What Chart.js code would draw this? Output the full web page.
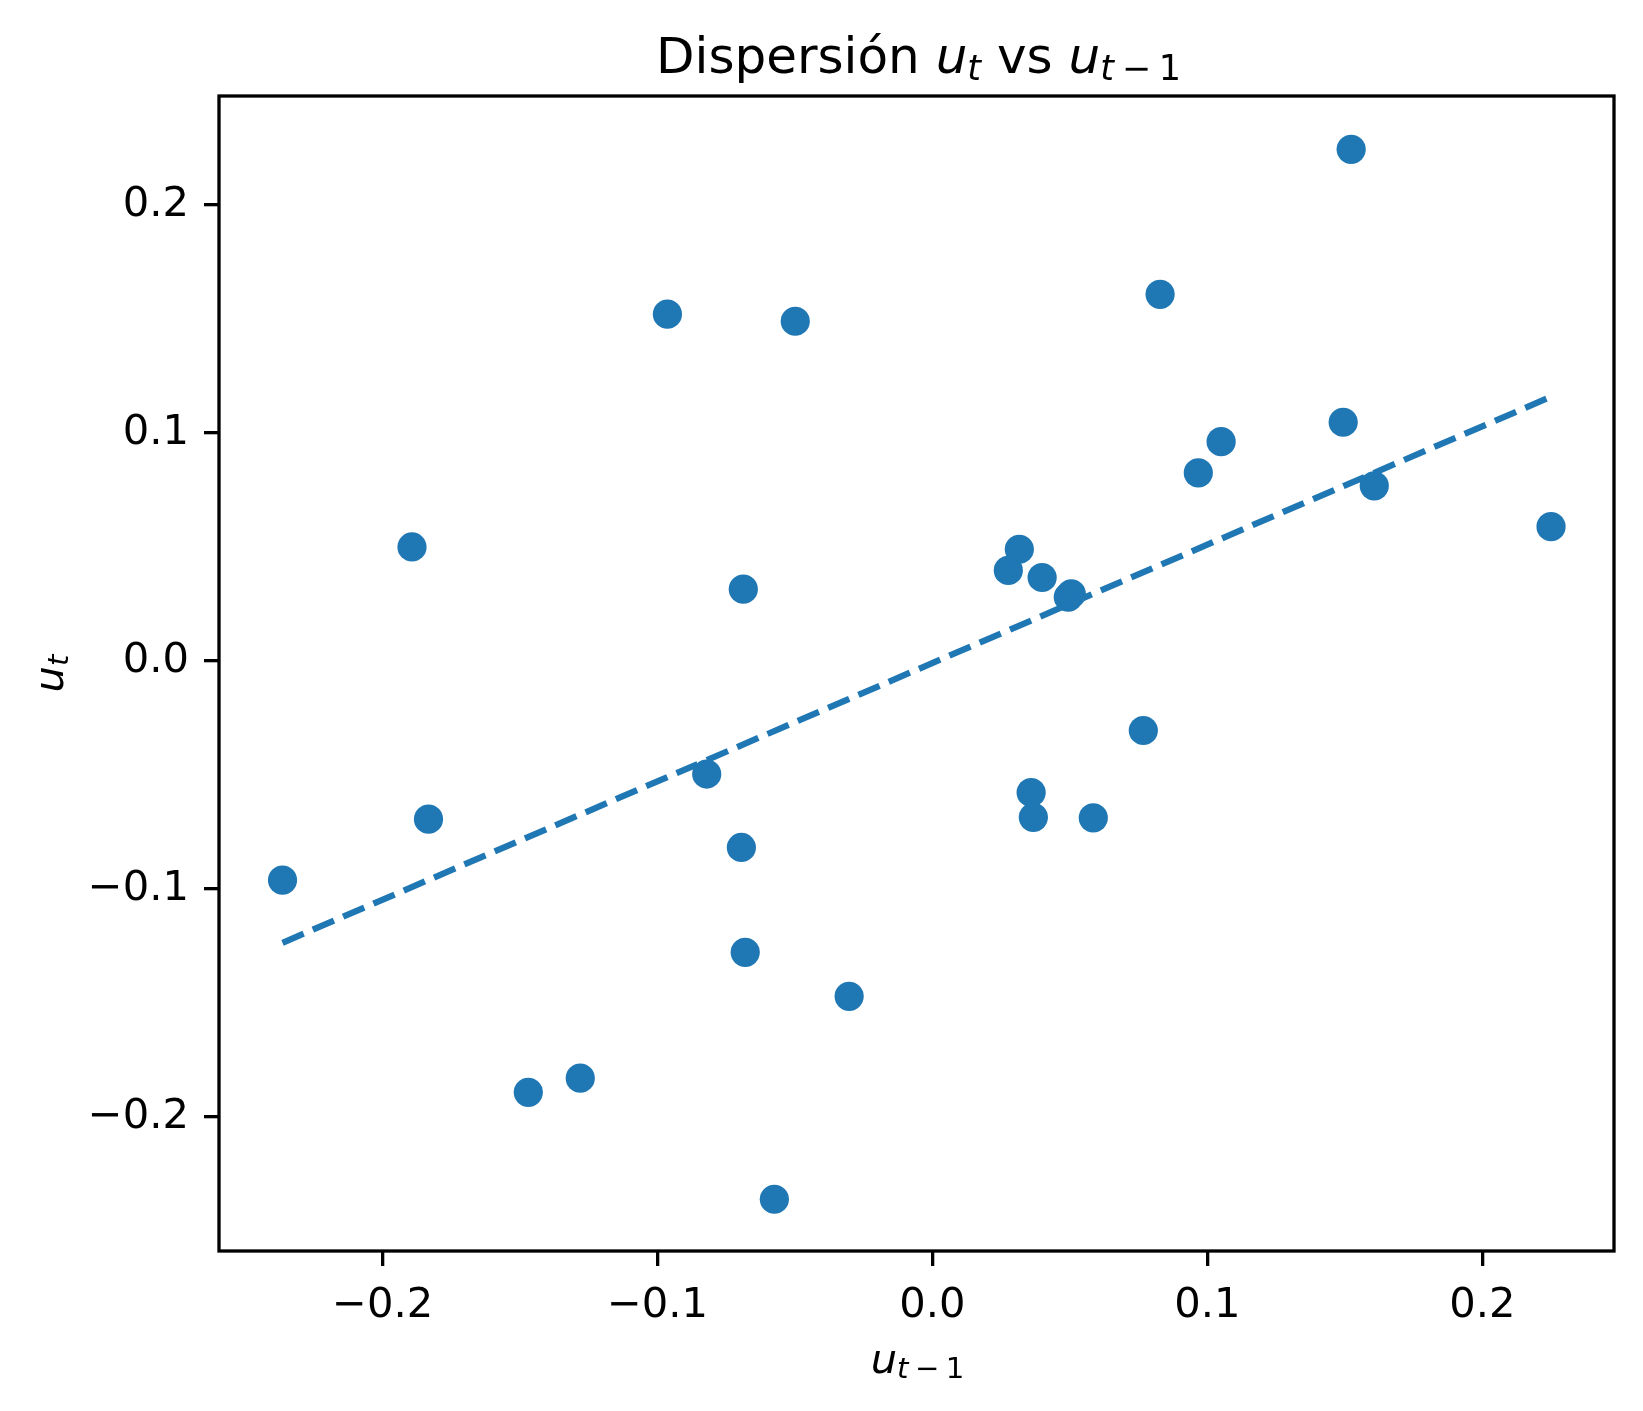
<!DOCTYPE html>
<html>
<head>
<meta charset="utf-8">
<script src="https://cdn.jsdelivr.net/npm/chart.js@4.4.1/dist/chart.umd.min.js"></script>
<style>
  html, body { margin: 0; padding: 0; background: #fff; }
  canvas { display: block; }
</style>
</head>
<body>
<canvas id="chart" width="1643" height="1411"></canvas>
<script>
// residuals: u_{t-1} on x, u_t on y
const lagValues = [-0.2364, -0.1893, -0.1833, -0.1470, -0.1281, -0.0964, -0.0821, -0.0695, -0.0688, -0.0681,
                   -0.0575, -0.0499, -0.0303, 0.0276, 0.0316, 0.0359, 0.0367, 0.0399, 0.0494, 0.0505,
                   0.0585, 0.0767, 0.0828, 0.0967, 0.1050, 0.1494, 0.1523, 0.1607, 0.2250];
const currentValues = [-0.0961, 0.0500, -0.0694, -0.1892, -0.1830, 0.1521, -0.0496, -0.0818, 0.0315, -0.1278,
                       -0.2361, 0.1490, -0.1471, 0.0397, 0.0490, -0.0577, -0.0686, 0.0366, 0.0280, 0.0294,
                       -0.0688, -0.0305, 0.1608, 0.0825, 0.0962, 0.1047, 0.2244, 0.0768, 0.0589];

// fitted line end points
const fitX = [-0.2364, 0.2250];
const fitY = [-0.1236, 0.1159];

const xTicks = [-0.2, -0.1, 0.0, 0.1, 0.2];
const yTicks = [-0.2, -0.1, 0.0, 0.1, 0.2];
const xLimits = [-0.2595, 0.2479];
const yLimits = [-0.2588, 0.2478];

const blue = "#1f77b4";
const family = '"DejaVu Sans"';
const tickFont = { family: "DejaVu Sans", size: 41.67 };

function fmt(v) {
    return Number(v).toFixed(1).replace("-", "\u2212");
}

function mathFont(size, italic) {
    return (italic ? "italic " : "") + size + "px " + family;
}

// draws a run of text pieces with mathtext-like subscripts, centred on cx
function drawMath(ctx, runs, size, cx, baseY) {
    const subSize = size * 0.7;
    const shift = size * 0.13;
    let total = 0;
    const laid = runs.map(r => {
        const s = r.sub ? subSize : size;
        ctx.font = mathFont(s, r.it);
        const pad = (r.pad || 0) * s;
        const w = ctx.measureText(r.t).width;
        const item = { t: r.t, it: r.it, sub: r.sub, s: s, x: total + pad };
        total += w + 2 * pad;
        return item;
    });
    const x0 = cx - total / 2;
    laid.forEach(r => {
        ctx.font = mathFont(r.s, r.it);
        ctx.fillText(r.t, x0 + r.x, baseY + (r.sub ? shift : 0));
    });
}

const titleRuns = [
    { t: "Dispersi\u00f3n " },
    { t: "u", it: true },
    { t: "t", it: true, sub: true },
    { t: " vs " },
    { t: "u", it: true },
    { t: "t", it: true, sub: true },
    { t: "\u2212", sub: true, pad: 0.22 },
    { t: "1", sub: true }
];
const xLabelRuns = [
    { t: "u", it: true },
    { t: "t", it: true, sub: true },
    { t: "\u2212", sub: true, pad: 0.22 },
    { t: "1", sub: true }
];
const yLabelRuns = [
    { t: "u", it: true },
    { t: "t", it: true, sub: true }
];

const framePlugin = {
    id: "frame",
    afterDraw(chart) {
        const ctx = chart.ctx;
        const a = chart.chartArea;
        ctx.save();
        ctx.strokeStyle = "#000";
        ctx.lineWidth = 3.3;
        ctx.strokeRect(a.left, a.top, a.right - a.left, a.bottom - a.top);

        ctx.fillStyle = "#000";
        ctx.textAlign = "left";
        ctx.textBaseline = "alphabetic";
        const cx = (a.left + a.right) / 2;
        const cy = (a.top + a.bottom) / 2;
        drawMath(ctx, titleRuns, 50, cx + 2, a.top - 23);
        drawMath(ctx, xLabelRuns, 41.67, cx + 1, a.bottom + 122);

        ctx.translate(a.left - 156.3, cy);
        ctx.rotate(-Math.PI / 2);
        drawMath(ctx, yLabelRuns, 41.67, 0, 0);
        ctx.restore();
    }
};

const scatterPoints = lagValues.map((x, i) => ({ x: x, y: currentValues[i] }));
const fitPoints = fitX.map((x, i) => ({ x: x, y: fitY[i] }));

const axisGrid = {
    display: true,
    drawOnChartArea: false,
    drawTicks: true,
    tickLength: 15,
    tickWidth: 3.3,
    tickColor: "#000",
    color: "#000",
    lineWidth: 3.3
};

new Chart(document.getElementById("chart"), {
    type: "scatter",
    data: {
        datasets: [
            {
                type: "line",
                data: fitPoints,
                borderColor: blue,
                borderWidth: 6.25,
                borderDash: [23, 10],
                pointRadius: 0,
                fill: false,
                order: 0
            },
            {
                type: "scatter",
                data: scatterPoints,
                backgroundColor: blue,
                borderWidth: 0,
                pointRadius: 14.6,
                pointHoverRadius: 14.6,
                order: 1
            }
        ]
    },
    options: {
        responsive: false,
        devicePixelRatio: 1,
        animation: false,
        events: [],
        layout: { padding: { left: 0, top: 96, right: 29, bottom: 0 } },
        plugins: {
            legend: { display: false },
            title: { display: false },
            tooltip: { enabled: false }
        },
        scales: {
            x: {
                type: "linear",
                min: xLimits[0],
                max: xLimits[1],
                afterBuildTicks: axis => { axis.ticks = xTicks.map(v => ({ value: v })); },
                afterFit: axis => { axis.height = 160; },
                grid: axisGrid,
                border: { display: false },
                ticks: {
                    font: tickFont,
                    color: "#000",
                    padding: 15,
                    maxRotation: 0,
                    autoSkip: false,
                    callback: v => fmt(v)
                }
            },
            y: {
                type: "linear",
                min: yLimits[0],
                max: yLimits[1],
                afterBuildTicks: axis => { axis.ticks = yTicks.map(v => ({ value: v })); },
                afterFit: axis => { axis.width = 219; },
                grid: axisGrid,
                border: { display: false },
                ticks: {
                    font: tickFont,
                    color: "#000",
                    padding: 15,
                    autoSkip: false,
                    callback: v => fmt(v)
                }
            }
        }
    },
    plugins: [framePlugin]
});
</script>
</body>
</html>
